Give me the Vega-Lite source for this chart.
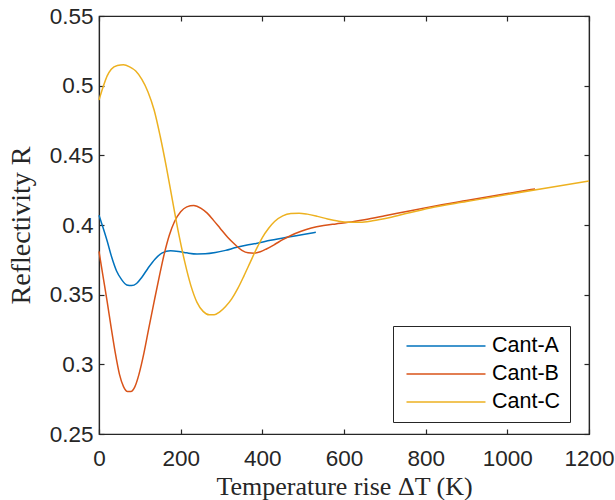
{
  "$schema": "https://vega.github.io/schema/vega-lite/v6.json",
  "width": 490,
  "height": 418,
  "autosize": "none",
  "padding": {"left": 99, "top": 16, "right": 26, "bottom": 66},
  "background": "white",
  "config": {"view": {"stroke": "#262626", "strokeWidth": 1.2}, "font": "Liberation Sans"},
  "data": {"values": [
    {"s":"Cant-A","T":0,"R":0.407},{"s":"Cant-A","T":10,"R":0.398},{"s":"Cant-A","T":20,"R":0.3885},{"s":"Cant-A","T":31,"R":0.377},{"s":"Cant-A","T":43,"R":0.367},{"s":"Cant-A","T":55,"R":0.361},{"s":"Cant-A","T":68,"R":0.357},{"s":"Cant-A","T":80,"R":0.3565},{"s":"Cant-A","T":92,"R":0.358},{"s":"Cant-A","T":105,"R":0.3625},{"s":"Cant-A","T":120,"R":0.369},{"s":"Cant-A","T":137,"R":0.3755},{"s":"Cant-A","T":155,"R":0.38},{"s":"Cant-A","T":175,"R":0.3815},{"s":"Cant-A","T":195,"R":0.381},{"s":"Cant-A","T":215,"R":0.38},{"s":"Cant-A","T":240,"R":0.3792},{"s":"Cant-A","T":260,"R":0.3793},{"s":"Cant-A","T":285,"R":0.3802},{"s":"Cant-A","T":310,"R":0.3818},{"s":"Cant-A","T":335,"R":0.3838},{"s":"Cant-A","T":360,"R":0.3855},{"s":"Cant-A","T":385,"R":0.3868},{"s":"Cant-A","T":420,"R":0.389},{"s":"Cant-A","T":460,"R":0.3912},{"s":"Cant-A","T":500,"R":0.3932},{"s":"Cant-A","T":531,"R":0.3948},
    {"s":"Cant-B","T":0,"R":0.381},{"s":"Cant-B","T":10,"R":0.363},{"s":"Cant-B","T":20,"R":0.345},{"s":"Cant-B","T":30,"R":0.326},{"s":"Cant-B","T":40,"R":0.308},{"s":"Cant-B","T":50,"R":0.293},{"s":"Cant-B","T":60,"R":0.284},{"s":"Cant-B","T":70,"R":0.2805},{"s":"Cant-B","T":78,"R":0.2805},{"s":"Cant-B","T":88,"R":0.284},{"s":"Cant-B","T":98,"R":0.293},{"s":"Cant-B","T":110,"R":0.308},{"s":"Cant-B","T":122,"R":0.326},{"s":"Cant-B","T":135,"R":0.345},{"s":"Cant-B","T":148,"R":0.3635},{"s":"Cant-B","T":160,"R":0.3795},{"s":"Cant-B","T":172,"R":0.3925},{"s":"Cant-B","T":185,"R":0.4025},{"s":"Cant-B","T":200,"R":0.4095},{"s":"Cant-B","T":215,"R":0.413},{"s":"Cant-B","T":232,"R":0.414},{"s":"Cant-B","T":250,"R":0.412},{"s":"Cant-B","T":265,"R":0.4085},{"s":"Cant-B","T":280,"R":0.4035},{"s":"Cant-B","T":297,"R":0.3975},{"s":"Cant-B","T":315,"R":0.3912},{"s":"Cant-B","T":333,"R":0.386},{"s":"Cant-B","T":350,"R":0.3818},{"s":"Cant-B","T":365,"R":0.38},{"s":"Cant-B","T":380,"R":0.3798},{"s":"Cant-B","T":395,"R":0.3808},{"s":"Cant-B","T":410,"R":0.3828},{"s":"Cant-B","T":430,"R":0.386},{"s":"Cant-B","T":450,"R":0.3895},{"s":"Cant-B","T":470,"R":0.3925},{"s":"Cant-B","T":495,"R":0.3955},{"s":"Cant-B","T":520,"R":0.3978},{"s":"Cant-B","T":550,"R":0.3996},{"s":"Cant-B","T":580,"R":0.4008},{"s":"Cant-B","T":610,"R":0.4019},{"s":"Cant-B","T":650,"R":0.4038},{"s":"Cant-B","T":700,"R":0.4066},{"s":"Cant-B","T":750,"R":0.4095},{"s":"Cant-B","T":811,"R":0.413},{"s":"Cant-B","T":900,"R":0.4176},{"s":"Cant-B","T":1000,"R":0.4226},{"s":"Cant-B","T":1068,"R":0.4259},
    {"s":"Cant-C","T":0,"R":0.4897},{"s":"Cant-C","T":10,"R":0.499},{"s":"Cant-C","T":20,"R":0.507},{"s":"Cant-C","T":30,"R":0.5118},{"s":"Cant-C","T":45,"R":0.5145},{"s":"Cant-C","T":60,"R":0.515},{"s":"Cant-C","T":75,"R":0.5135},{"s":"Cant-C","T":90,"R":0.5105},{"s":"Cant-C","T":105,"R":0.5045},{"s":"Cant-C","T":120,"R":0.4955},{"s":"Cant-C","T":135,"R":0.4825},{"s":"Cant-C","T":150,"R":0.4635},{"s":"Cant-C","T":165,"R":0.4415},{"s":"Cant-C","T":180,"R":0.4175},{"s":"Cant-C","T":195,"R":0.394},{"s":"Cant-C","T":210,"R":0.3735},{"s":"Cant-C","T":225,"R":0.3565},{"s":"Cant-C","T":240,"R":0.3445},{"s":"Cant-C","T":255,"R":0.338},{"s":"Cant-C","T":270,"R":0.3355},{"s":"Cant-C","T":282,"R":0.3355},{"s":"Cant-C","T":295,"R":0.3375},{"s":"Cant-C","T":310,"R":0.3415},{"s":"Cant-C","T":325,"R":0.347},{"s":"Cant-C","T":340,"R":0.3545},{"s":"Cant-C","T":355,"R":0.3635},{"s":"Cant-C","T":370,"R":0.373},{"s":"Cant-C","T":385,"R":0.3825},{"s":"Cant-C","T":400,"R":0.391},{"s":"Cant-C","T":415,"R":0.3975},{"s":"Cant-C","T":430,"R":0.4025},{"s":"Cant-C","T":450,"R":0.4065},{"s":"Cant-C","T":470,"R":0.4082},{"s":"Cant-C","T":490,"R":0.4085},{"s":"Cant-C","T":510,"R":0.4078},{"s":"Cant-C","T":535,"R":0.4062},{"s":"Cant-C","T":560,"R":0.4043},{"s":"Cant-C","T":585,"R":0.4028},{"s":"Cant-C","T":610,"R":0.402},{"s":"Cant-C","T":640,"R":0.402},{"s":"Cant-C","T":670,"R":0.403},{"s":"Cant-C","T":710,"R":0.4052},{"s":"Cant-C","T":760,"R":0.4088},{"s":"Cant-C","T":811,"R":0.4122},{"s":"Cant-C","T":900,"R":0.4168},{"s":"Cant-C","T":1000,"R":0.4219},{"s":"Cant-C","T":1100,"R":0.4268},{"s":"Cant-C","T":1200,"R":0.4316}
  ]},
  "resolve": {"scale": {"x": "independent", "y": "independent"}},
  "layer": [
    {
      "mark": {"type": "line", "interpolate": "monotone", "strokeWidth": 1.5},
      "encoding": {
        "x": {"field": "T", "type": "quantitative", "scale": {"domain": [0, 1200], "nice": false},
          "axis": {"orient": "bottom", "values": [0,200,400,600,800,1000,1200], "format": "d", "grid": false,
            "tickSize": -5, "tickColor": "#262626", "domainColor": "#262626", "domainWidth": 1.2, "tickWidth": 1.2,
            "labelFont": "Liberation Sans", "labelFontSize": 22.5, "labelColor": "#262626", "labelPadding": 18, "labelFlush": false,
            "title": "Temperature rise ΔT (K)", "titleFont": "Liberation Serif", "titleFontSize": 26, "titleFontWeight": "normal", "titleColor": "#262626", "titlePadding": 4}},
        "y": {"field": "R", "type": "quantitative", "scale": {"domain": [0.25, 0.55], "nice": false, "zero": false},
          "axis": {"orient": "left", "values": [0.25,0.3,0.35,0.4,0.45,0.5,0.55], "format": "~g", "grid": false,
            "tickSize": -5, "tickColor": "#262626", "domainColor": "#262626", "domainWidth": 1.2, "tickWidth": 1.2,
            "labelFont": "Liberation Sans", "labelFontSize": 22.5, "labelColor": "#262626", "labelPadding": 11, "labelFlush": false,
            "title": "Reflectivity R", "titleFont": "Liberation Serif", "titleFontSize": 28, "titleFontWeight": "normal", "titleColor": "#262626", "titlePadding": 14}},
        "color": {"field": "s", "type": "nominal",
          "scale": {"domain": ["Cant-A", "Cant-B", "Cant-C"], "range": ["#0072BD", "#D95319", "#EDB120"]},
          "legend": {"orient": "none", "legendX": 294, "legendY": 310, "title": null, "direction": "vertical",
            "symbolType": "M-4,0H4", "symbolSize": 390, "symbolStrokeWidth": 1.5, "symbolOffset": 33,
            "labelFont": "Liberation Sans", "labelFontSize": 21.5, "labelColor": "#000000",
            "labelOffset": 35, "padding": 9, "rowPadding": 6, "strokeColor": "#262626", "fillColor": "white", "cornerRadius": 0}}
      }
    },
    {
      "mark": {"type": "line", "strokeOpacity": 0},
      "encoding": {
        "x": {"field": "T", "type": "quantitative", "scale": {"domain": [0, 1200], "nice": false},
          "axis": {"orient": "top", "values": [0,200,400,600,800,1000,1200], "labels": false, "title": null, "grid": false,
            "tickSize": -5, "tickColor": "#262626", "domainColor": "#262626", "domainWidth": 1.2, "tickWidth": 1.2}},
        "y": {"field": "R", "type": "quantitative", "scale": {"domain": [0.25, 0.55], "nice": false, "zero": false},
          "axis": {"orient": "right", "values": [0.25,0.3,0.35,0.4,0.45,0.5,0.55], "labels": false, "title": null, "grid": false,
            "tickSize": -5, "tickColor": "#262626", "domainColor": "#262626", "domainWidth": 1.2, "tickWidth": 1.2}},
        "detail": {"field": "s"}
      }
    }
  ]
}
